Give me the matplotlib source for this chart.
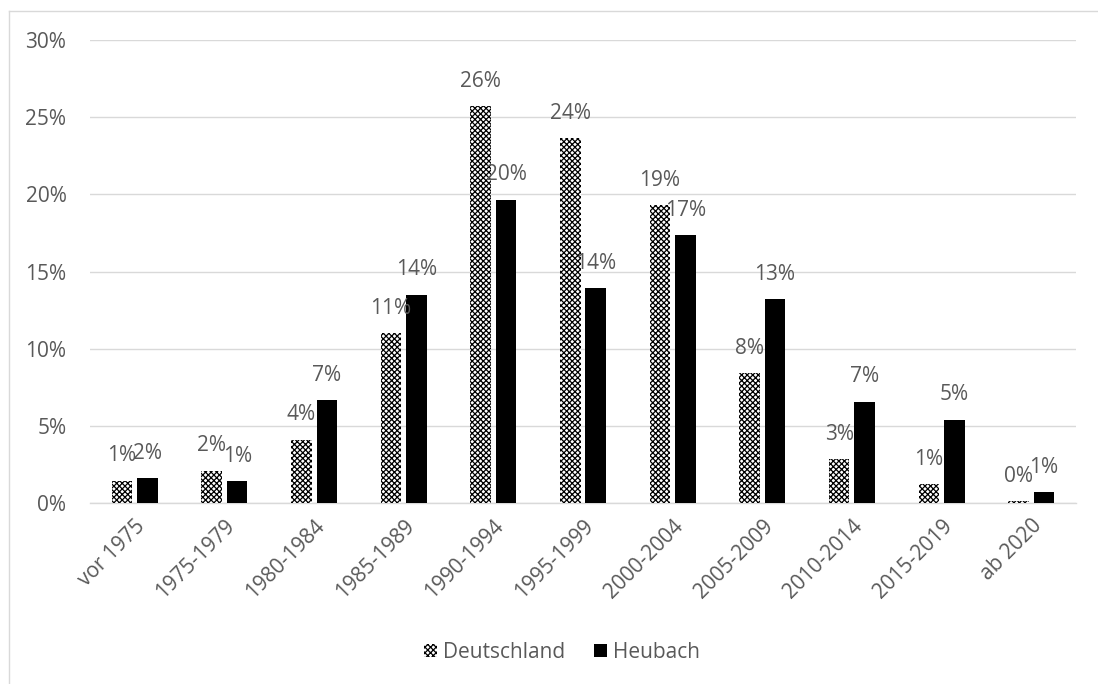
import matplotlib
matplotlib.use("Agg")
import matplotlib.pyplot as plt
import numpy as np
from matplotlib.lines import Line2D

plt.rcParams['font.family'] = ['Open Sans', 'DejaVu Sans']
plt.rcParams['hatch.linewidth'] = 0.9

# Baujahr-Verteilung
kategorien = ["vor 1975", "1975-1979", "1980-1984", "1985-1989", "1990-1994",
              "1995-1999", "2000-2004", "2005-2009", "2010-2014", "2015-2019", "ab 2020"]
deutschland = [1.43, 2.1, 4.1, 11.0, 25.7, 23.65, 19.3, 8.4, 2.85, 1.2, 0.1]
heubach = [1.6, 1.4, 6.65, 13.5, 19.65, 13.9, 17.35, 13.2, 6.55, 5.4, 0.7]
yticks = [0, 5, 10, 15, 20, 25, 30]

grau = '#595959'
fs = 15

fig = plt.figure(figsize=(10.98, 6.84), dpi=100)
ax = fig.add_axes([90 / 1098, 1 - 503 / 684, 986 / 1098, 463 / 684])

x = np.arange(len(kategorien))
breite = 0.23
versatz = 0.142

b1 = ax.bar(x - versatz, deutschland, breite, color='white', edgecolor='black',
            linewidth=0, hatch='xxxxxx', label='Deutschland', zorder=3)
b2 = ax.bar(x + versatz, heubach, breite, color='black', edgecolor='black',
            linewidth=0, label='Heubach', zorder=3)

# Datenbeschriftungen (überlappen wie im Original)
for bars, werte in [(b1, deutschland), (b2, heubach)]:
    for rect, w in zip(bars, werte):
        ax.annotate(f"{round(w):.0f}%", (rect.get_x() + rect.get_width() / 2, w),
                    xytext=(0, 18), textcoords='offset points', ha='center', va='center',
                    fontsize=fs, color=grau)

ax.set_xlim(-0.5, len(kategorien) - 0.5)
ax.set_ylim(0, 30)
ax.set_yticks(yticks)
ax.set_yticklabels([f"{t}%" for t in yticks], fontsize=fs, color=grau)
ax.set_xticks(x)
ax.set_xticklabels(kategorien, rotation=45, ha='right', va='top',
                   rotation_mode='anchor', fontsize=fs, color=grau)
ax.tick_params(axis='x', length=0, pad=9)
ax.tick_params(axis='y', length=0, pad=17)

ax.grid(axis='y', color='#d9d9d9', linewidth=1.0, zorder=0)
for s in ['top', 'right', 'left']:
    ax.spines[s].set_visible(False)
ax.spines['bottom'].set_color('#d9d9d9')
ax.spines['bottom'].set_linewidth(1.0)

leg = fig.legend(handles=[b1, b2], loc='center', bbox_to_anchor=(562 / 1098, 1 - 652 / 684),
                 ncol=2, frameon=False, fontsize=fs, handlelength=0.6, handleheight=0.6,
                 handletextpad=0.3, columnspacing=1.4)
for t in leg.get_texts():
    t.set_color(grau)

# Rahmen des Diagrammbereichs
fig.add_artist(Line2D([8.5 / 1098, 8.5 / 1098], [0, 1 - 11 / 684], transform=fig.transFigure,
                      color='#d9d9d9', linewidth=1.0))
fig.add_artist(Line2D([8.5 / 1098, 1], [1 - 11 / 684, 1 - 11 / 684], transform=fig.transFigure,
                      color='#d9d9d9', linewidth=1.0))

fig.savefig("out.png", dpi=100)
